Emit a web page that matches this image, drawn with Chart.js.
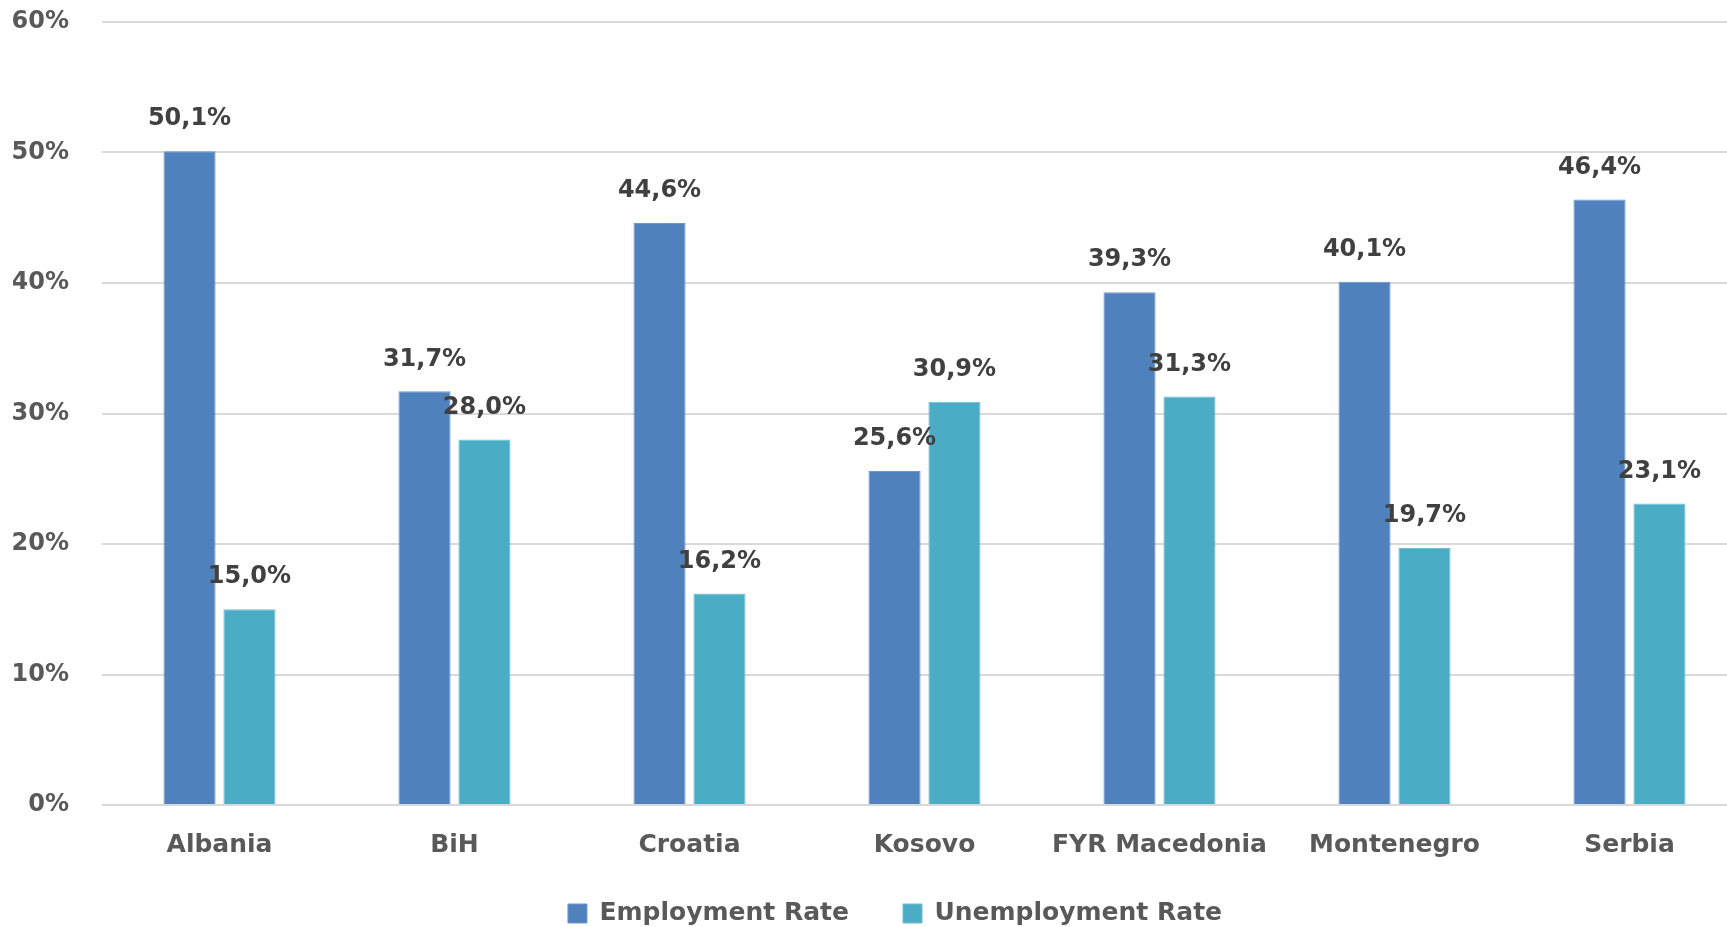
<!DOCTYPE html>
<html>
<head>
<meta charset="utf-8">
<script src="https://cdn.jsdelivr.net/npm/chart.js@4"></script>
<style>
  html, body { margin: 0; padding: 0; background: #fff; overflow: hidden; }
  #wrap { width: 1727px; height: 927px; overflow: hidden; position: relative; }
  canvas { display: block; }
</style>
</head>
<body>
<div id="wrap"><canvas id="chart" width="1747" height="927"></canvas></div>
<script>
const countries = ['Albania', 'BiH', 'Croatia', 'Kosovo', 'FYR Macedonia', 'Montenegro', 'Serbia'];
const employmentRate = [50.1, 31.7, 44.6, 25.6, 39.3, 40.1, 46.4];
const unemploymentRate = [15.0, 28.0, 16.2, 30.9, 31.3, 19.7, 23.1];
const yTicks = [0, 10, 20, 30, 40, 50, 60];

const FONT = "'DejaVu Sans', Verdana, sans-serif";
const LEGEND_HEIGHT = 62;
const LEGEND_TOP_GAP = 36;

function formatPct(v) {
  return v.toFixed(1).replace('.', ',') + '%';
}

// draws the value above each bar
const barLabels = {
  id: 'barLabels',
  afterDatasetsDraw(chart) {
    const ctx = chart.ctx;
    ctx.save();
    ctx.font = 'bold 24px ' + FONT;
    ctx.fillStyle = '#404040';
    ctx.textAlign = 'center';
    ctx.textBaseline = 'middle';
    chart.data.datasets.forEach((ds, i) => {
      const meta = chart.getDatasetMeta(i);
      meta.data.forEach((bar, j) => {
        ctx.fillText(formatPct(ds.data[j]), bar.x, bar.y - 32);
      });
    });
    ctx.restore();
  },
};

// wide gaps between legend items but a short legend box
const legendBox = {
  id: 'legendBox',
  beforeLayout(chart) {
    const lg = chart.legend;
    if (!lg || lg._fitPatched) return;
    const fit = lg.fit.bind(lg);
    lg.fit = function () { fit(); this.height = LEGEND_HEIGHT; };
    lg._fitPatched = true;
  },
  afterLayout(chart) {
    const lg = chart.legend;
    const lift = lg.options.labels.padding - LEGEND_TOP_GAP;
    lg.top -= lift;
    lg.left += 30;
  },
};

new Chart(document.getElementById('chart'), {
  type: 'bar',
  data: {
    labels: countries,
    datasets: [
      {
        label: 'Employment Rate',
        data: employmentRate,
        backgroundColor: '#4f81bd',
        borderColor: '#6f97c9',
        borderWidth: 1,
      },
      {
        label: 'Unemployment Rate',
        data: unemploymentRate,
        backgroundColor: '#4bacc6',
        borderColor: '#70bed3',
        borderWidth: 1,
      },
    ],
  },
  options: {
    responsive: false,
    animation: false,
    devicePixelRatio: 1,
    categoryPercentage: 0.51,
    barPercentage: 0.87,
    layout: { padding: { top: 22, left: 13, right: 0, bottom: 0 } },
    plugins: {
      legend: {
        position: 'bottom',
        labels: {
          boxWidth: 19,
          boxHeight: 19,
          padding: 54,
          color: '#595959',
          font: { family: FONT, size: 25, weight: 'bold' },
        },
      },
      tooltip: { enabled: false },
    },
    scales: {
      x: {
        grid: { display: false, drawTicks: false },
        border: { display: false },
        afterFit(axis) { axis.height = 60; },
        ticks: {
          padding: 25,
          color: '#595959',
          font: { family: FONT, size: 25, weight: 'bold' },
        },
      },
      y: {
        min: 0,
        max: 60,
        afterBuildTicks(axis) {
          axis.ticks = yTicks.map(v => ({ value: v }));
        },
        afterFit(axis) {
          axis.width = 89;
          axis.paddingTop = 0;
          axis.paddingBottom = 0;
        },
        border: { display: false },
        grid: { color: '#d9d9d9', lineWidth: 2, drawTicks: false },
        ticks: {
          padding: 33,
          color: '#595959',
          font: { family: FONT, size: 24, weight: 'bold' },
          callback: v => v + '%',
        },
      },
    },
  },
  plugins: [barLabels, legendBox],
});
</script>
</body>
</html>
